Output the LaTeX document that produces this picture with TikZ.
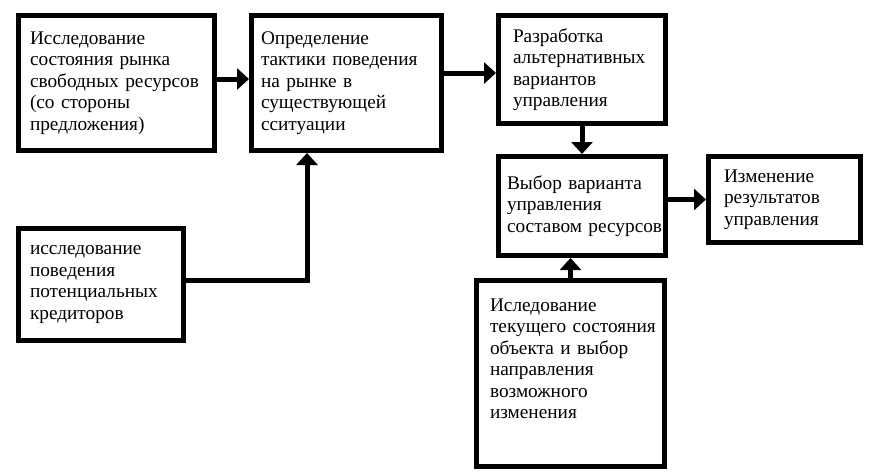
\documentclass[tikz,border=0pt]{standalone}
\usepackage{fontspec}
\setmainfont{Liberation Serif}
\usetikzlibrary{arrows.meta}

\begin{document}
\begin{tikzpicture}[
  x=1pt, y=-1pt,
  font=\fontsize{19.3}{21.5}\selectfont,
  blk/.style={draw=black, line width=5pt, fill=white, align=left, inner ysep=3pt},
  flow/.style={-{Triangle[width=21pt,length=12pt]}, line width=5pt, draw=black}
]
\useasboundingbox (0,0) rectangle (870,474);

% Blocks (pixel grid, y downwards).
\node[blk, text width=173pt, inner xsep=11.5pt, minimum width=196pt, minimum height=135pt]
  (a) at (116.5,83) {Исследование\\состояния~рынка\\свободных~ресурсов\\(со~стороны\\предложения)};
\node[blk, text width=171pt, inner xsep=9.5pt, minimum width=190pt, minimum height=135pt]
  (b) at (346.5,83) {Определение\\тактики~поведения\\на~рынке~в\\существующей\\сситуации};
\node[blk, text width=138pt, inner xsep=14.5pt, minimum width=167pt, minimum height=108pt]
  (c) at (582,69.5) {Разработка\\альтернативных\\вариантов\\управления};
\node[blk, text width=150pt, inner xsep=8.5pt, minimum width=167pt, minimum height=99pt]
  (d) at (582,206) {Выбор~варианта\\управления\\составом~ресурсов};
\node[blk, text width=121pt, inner xsep=15.5pt, minimum width=152pt, minimum height=86pt]
  (e) at (784.5,199.5) {Изменение\\результатов\\управления};
\node[blk, text width=142pt, inner xsep=11.5pt, minimum width=165pt, minimum height=112pt]
  (f) at (101,284.5) {исследование\\поведения\\потенциальных\\кредиторов};
\node[blk, text width=161pt, inner xsep=13.5pt, minimum width=188pt, minimum height=186pt]
  (g) at (570.5,373.5) {Иследование\\текущего~состояния\\объекта~и~выбор\\направления\\возможного\\изменения\\[8pt]\mbox{}};

% Connectors.
\coordinate (cin) at ([yshift=-3.5pt]c.west);
\coordinate (bin) at ([xshift=-39.5pt]b.south);
\draw[flow] ([yshift=4pt]a.east) -- ([yshift=4pt]b.west);
\draw[flow] (b.east |- cin) -- (cin);
\draw[flow] (c.south) -- (d.north);
\draw[flow] (d.east |- e.west) -- (e.west);
\draw[flow] ([yshift=4.5pt]f.east) -| (bin);
\draw[flow] (g.north) -- (g.north |- d.south);

\end{tikzpicture}
\end{document}
